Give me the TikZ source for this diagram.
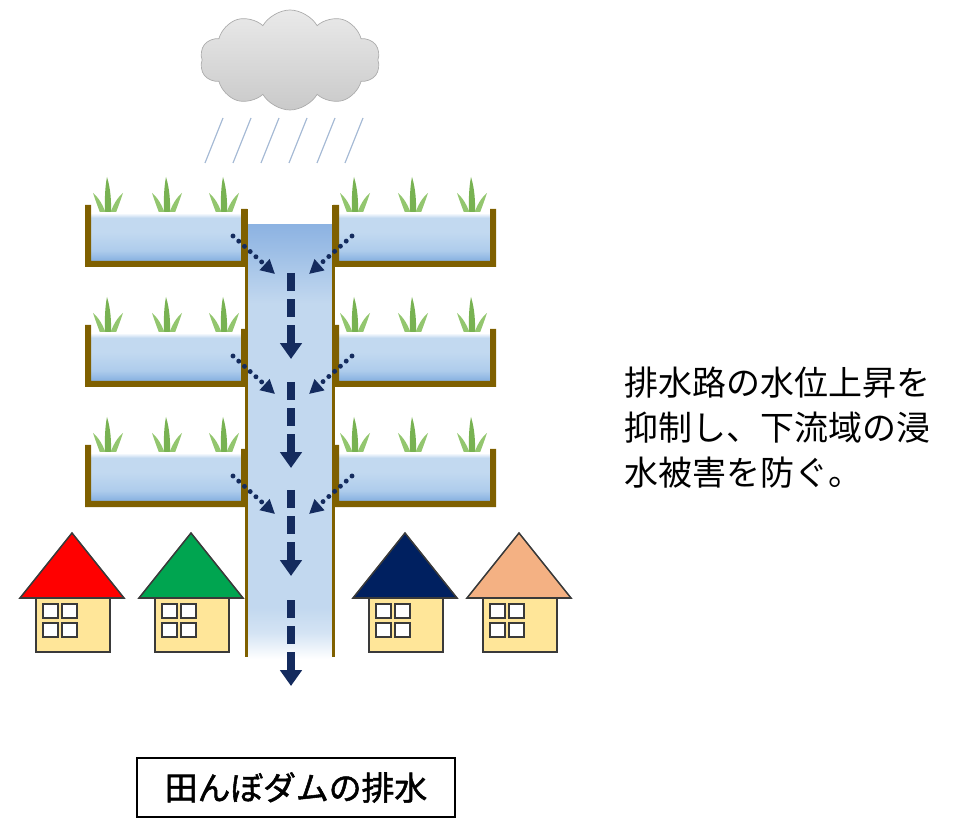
\documentclass[tikz,border=0pt]{standalone}
\usepackage{fontspec}
\usetikzlibrary{arrows.meta,shapes.symbols}
\newfontfamily\jp{Noto Sans CJK JP}
\newfontfamily\jpb{Noto Sans CJK JP}[FakeBold=1.6]

\definecolor{wallbrown}{HTML}{7F6000}
\definecolor{flownavy}{HTML}{142B5E}
\definecolor{roofred}{HTML}{FF0000}
\definecolor{roofgreen}{HTML}{00A550}
\definecolor{roofnavy}{HTML}{002060}
\definecolor{roofpeach}{HTML}{F4B183}
\definecolor{housewall}{HTML}{FFE699}
\definecolor{houseline}{HTML}{3A3A3A}
\definecolor{raincol}{HTML}{A3B8D4}
\definecolor{grassA}{HTML}{78B252}
\definecolor{grassB}{HTML}{93C66F}
\definecolor{waterdeep}{HTML}{86B0E0}
\definecolor{watermid}{HTML}{AECCEC}
\definecolor{waterlight}{HTML}{C2D9F0}
\definecolor{chantop}{HTML}{8DB3E2}
\definecolor{chanbody}{HTML}{C2D8EF}

% water in the paddies: darker at the bed, fading to white at the surface
\pgfdeclareverticalshading{paddywater}{100bp}{%
  color(0bp)=(waterdeep); color(25bp)=(waterdeep); color(36bp)=(watermid);
  color(55bp)=(waterlight); color(70bp)=(waterlight); color(75bp)=(white); color(100bp)=(white)}
% water in the drainage channel: deeper at the inlet, fading out at the outlet
\pgfdeclareverticalshading{channelwater}{100bp}{%
  color(0bp)=(white); color(25bp)=(white); color(28bp)=(chanbody!70!white); color(31bp)=(chanbody);
  color(66bp)=(chanbody); color(72bp)=(chantop!70!chanbody); color(75bp)=(chantop); color(100bp)=(chantop)}

\tikzset{
  tuft/.pic={
    \fill[grassA] (-3,0) .. controls (-3.5,-15) and (-3,-28) .. (-1,-38)
                  .. controls (2.5,-27) and (3.5,-14) .. (3,0) -- cycle;
    \fill[grassB] (-1.5,0) .. controls (-5,-10) and (-9,-17) .. (-15,-22)
                  .. controls (-12,-13) and (-9,-5) .. (-7,0) -- cycle;
    \fill[grassB] (1.5,0) .. controls (5,-10) and (9,-17) .. (15,-22)
                  .. controls (12,-13) and (9,-5) .. (7,0) -- cycle;
  },
  pics/house/.style={code={
    \draw[houseline, line width=1.3pt, fill=housewall] (16,0) rectangle (90,54);
    \draw[houseline, line width=1.3pt, fill=#1, line join=miter] (0,0) -- (52,-65) -- (104,0) -- cycle;
    \foreach \wx in {23,42} \foreach \wy in {6,25}
      \draw[houseline, line width=1.7pt, fill=white] (\wx,\wy) rectangle ++(15,14);
  }},
  seepage/.style={flownavy, line width=4.2pt, line cap=round, dash pattern=on 0pt off 6.6pt,
    -{Triangle[length=12pt,width=12pt]}},
  outflow/.style={flownavy, line width=6.4pt, dash pattern=on 15.4pt off 6.8pt,
    -{Triangle[length=13.5pt,width=18pt]}},
  rain/.style={raincol, line width=1pt},
  wallline/.style={wallbrown, line width=2.6pt},
}

\begin{document}
\begin{tikzpicture}[x=0.03cm,y=-0.03cm]
\useasboundingbox (0,0) rectangle (966,819);

% drainage channel
\shade[shading=channelwater] (247,225) rectangle (333,659);
\draw[wallline] (246.5,209) -- (246.5,657);
\draw[wallline] (333.5,205) -- (333.5,657);

% paddy fields on both sides of the channel
\foreach \t in {205,325,445} {
  \foreach \gx in {108,167,224,355,413,472}
    \pic at (\gx,\t+10) {tuft};
  \shade[shading=paddywater] (91,\t+8) rectangle (241,\t+56);
  \shade[shading=paddywater] (339,\t+8) rectangle (490,\t+56);
  \fill[wallbrown] (85,\t) -- (91,\t) -- (91,\t+56) -- (241,\t+56) -- (241,\t+4)
        -- (247,\t+4) -- (247,\t+62) -- (85,\t+62) -- cycle;
  \fill[wallbrown] (333,\t) -- (339,\t) -- (339,\t+56) -- (490,\t+56) -- (490,\t+4)
        -- (496,\t+4) -- (496,\t+62) -- (333,\t+62) -- cycle;
}

% seepage from each paddy into the channel
\foreach \r/\t in {1/205,2/325,3/445} {
  \coordinate (sl\r) at (233,\t+31);
  \coordinate (el\r) at (275,\t+69);
  \coordinate (sr\r) at (352,\t+31);
  \coordinate (er\r) at (309,\t+69);
  \draw[seepage] (sl\r) -- (el\r);
  \draw[seepage] (sr\r) -- (er\r);
}

% flow down the channel
\foreach \r/\s in {1/273,2/382,3/490,4/600} {
  \coordinate (vs\r) at (291,\s);
  \coordinate (ve\r) at (291,\s+86);
  \draw[outflow] (vs\r) -- (ve\r);
}

% houses downstream
\pic at (20,598) {house=roofred};
\pic at (139,598) {house=roofgreen};
\pic at (353,598) {house=roofnavy};
\pic at (467,598) {house=roofpeach};

% rain cloud
\node[cloud, cloud puffs=10, cloud puff arc=120, aspect=1.8, minimum width=5.4cm,
      minimum height=3.0cm, draw=gray!65, line width=0.6pt,
      top color=gray!17, bottom color=gray!42] (cloud) at (290,60) {};
\foreach \k in {0,...,5} {
  \coordinate (rt\k) at (223+28*\k,118);
  \coordinate (rb\k) at (205+28*\k,163);
  \draw[rain] (rt\k) -- (rb\k);
}

% texts
\node[anchor=west, inner sep=0pt, align=left,
      font=\jp\fontsize{29pt}{38.4pt}\selectfont] (note) at (624,428)
  {排水路の水位上昇を\\抑制し、下流域の浸\\水被害を防ぐ。};
\node[draw=black, line width=1.7pt, minimum width=9.54cm, minimum height=1.77cm,
      font=\jpb\fontsize{28pt}{30pt}\selectfont] (caption) at (296,787.5)
  {田んぼダムの排水};
\end{tikzpicture}
\end{document}
